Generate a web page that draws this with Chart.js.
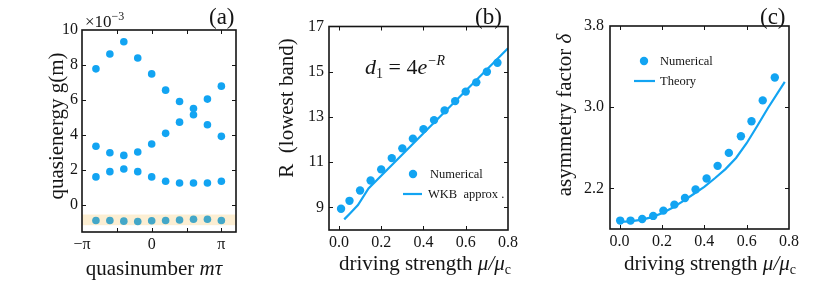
<!DOCTYPE html>
<html>
<head>
<meta charset="utf-8">
<script src="https://cdn.jsdelivr.net/npm/chart.js@4.4.1/dist/chart.umd.min.js"></script>
<style>
  html, body { margin: 0; padding: 0; background: #fff; }
  #wrap { position: relative; width: 830px; height: 293px; overflow: hidden; }
  canvas { position: absolute; top: 0; }
</style>
</head>
<body>
<div id="wrap">
  <canvas id="panelA" width="262" height="293" style="left:0px"></canvas>
  <canvas id="panelB" width="283" height="293" style="left:262px"></canvas>
  <canvas id="panelC" width="285" height="293" style="left:545px"></canvas>
</div>
<script>
// ---- panel (a): quasienergy bands, x in units of pi, y in units of 1e-3
const mTau = [-0.8, -0.6, -0.4, -0.2, 0, 0.2, 0.4, 0.6, 0.8, 1.0];
const band4 = [7.78, 8.63, 9.33, 8.40, 7.49, 6.56, 5.91, 5.51, 6.05, 6.79];
const band3 = [3.35, 2.98, 2.83, 3.02, 3.48, 4.09, 4.73, 5.15, 4.58, 3.92];
const band2 = [1.60, 1.90, 2.05, 1.90, 1.60, 1.35, 1.25, 1.25, 1.25, 1.35];
const band1 = [-0.89, -0.89, -0.93, -0.95, -0.91, -0.89, -0.86, -0.82, -0.82, -0.89];
const lowestBandRange = [-1.16, -0.55];
const mTicks = [-1, -0.5, 0, 0.5, 1];
const mTickLabels = ["\u2212\u03c0", "", "0", "", "\u03c0"];
const gTicks = [0, 2, 4, 6, 8, 10];

// ---- panel (b): R of lowest band vs driving strength
const muNum = [0.01, 0.05, 0.1, 0.15, 0.2, 0.25, 0.3, 0.35, 0.4, 0.45, 0.5, 0.55, 0.6, 0.65, 0.7, 0.75];
const rNum = [8.94, 9.29, 9.75, 10.19, 10.68, 11.18, 11.61, 12.04, 12.46, 12.86, 13.29, 13.70, 14.12, 14.53, 15.0, 15.40];
const muWkb = [0.025, 0.05, 0.09, 0.14, 0.2, 0.3, 0.4, 0.5, 0.6, 0.7, 0.8];
const rWkb = [8.47, 8.71, 9.10, 9.84, 10.40, 11.34, 12.28, 13.22, 14.16, 15.10, 16.04];
const rTicks = [9, 11, 13, 15, 17];

// ---- panel (c): asymmetry factor vs driving strength
const muDelta = [0.003, 0.052, 0.107, 0.159, 0.207, 0.259, 0.309, 0.359, 0.411, 0.463, 0.516, 0.573, 0.623, 0.676, 0.733];
const deltaNum = [1.883, 1.883, 1.899, 1.929, 1.981, 2.04, 2.105, 2.19, 2.298, 2.422, 2.55, 2.714, 2.861, 3.067, 3.293];
const muTheory = [0, 0.05, 0.1, 0.15, 0.2, 0.25, 0.3, 0.35, 0.4, 0.45, 0.5, 0.55, 0.6, 0.65, 0.7, 0.78];
const deltaTheory = [1.87, 1.875, 1.89, 1.915, 1.955, 2.01, 2.075, 2.145, 2.215, 2.3, 2.39, 2.5, 2.645, 2.815, 2.99, 3.25];
const deltaTicks = [2.2, 3.0, 3.8];
const muTicks = [0, 0.2, 0.4, 0.6, 0.8];

const BLUE = "rgb(18, 164, 242)";
const INK = "#151515";
const SERIF = '"Liberation Serif", "DejaVu Serif", serif';
const f = (size, style = "") => `${style} ${size}px ${SERIF}`;

const pts = (xs, ys) => xs.map((x, i) => ({ x, y: ys[i] }));

function drawRich(ctx, item, dx) {
  ctx.save();
  ctx.translate(item.x - dx, item.y);
  if (item.rot) ctx.rotate(item.rot);
  ctx.textBaseline = "alphabetic";
  ctx.textAlign = "left";
  let w = 0;
  item.segs.forEach(([t, font]) => { ctx.font = font; w += ctx.measureText(t).width; });
  let cx = item.align === "center" ? -w / 2 : 0;
  item.segs.forEach(([t, font, dy]) => {
    ctx.font = font;
    ctx.fillStyle = INK;
    ctx.fillText(t, cx, dy || 0);
    cx += ctx.measureText(t).width;
  });
  ctx.restore();
}

const framePlugin = {
  id: "frame",
  afterDatasetsDraw(chart, args, o) {
    const { ctx, chartArea: a, scales: { y } } = chart;
    if (o.band) {
      const y1 = y.getPixelForValue(o.band[1]);
      const y0 = y.getPixelForValue(o.band[0]);
      ctx.save();
      ctx.fillStyle = "rgba(242, 176, 50, 0.22)";
      ctx.fillRect(a.left, y1, a.width, y0 - y1);
      ctx.restore();
    }
  },
  afterDraw(chart, args, o) {
    const { ctx, chartArea: a, scales: { x, y } } = chart;
    const dx = chart.canvas.offsetLeft;
    ctx.save();
    ctx.strokeStyle = INK;
    ctx.lineWidth = 1;
    ctx.beginPath();
    x.ticks.forEach((t) => {
      const px = Math.round(x.getPixelForValue(t.value)) + 0.5;
      if (px <= a.left + 1 || px >= a.right - 1) return;
      ctx.moveTo(px, a.bottom); ctx.lineTo(px, a.bottom - 4);
      ctx.moveTo(px, a.top); ctx.lineTo(px, a.top + 4);
    });
    y.ticks.forEach((t) => {
      const py = Math.round(y.getPixelForValue(t.value)) + 0.5;
      if (py <= a.top + 1 || py >= a.bottom - 1) return;
      ctx.moveTo(a.left, py); ctx.lineTo(a.left + 4, py);
      ctx.moveTo(a.right, py); ctx.lineTo(a.right - 4, py);
    });
    ctx.stroke();
    ctx.lineWidth = 1.6;
    ctx.strokeRect(a.left, a.top, a.width, a.height);
    ctx.restore();

    (o.texts || []).forEach((t) => drawRich(ctx, t, dx));

    (o.legend || []).forEach((row) => {
      const ds = chart.data.datasets[row.ds];
      ctx.save();
      if (row.kind === "point") {
        ctx.fillStyle = ds.backgroundColor;
        ctx.beginPath();
        ctx.arc(row.mx - dx, row.y, 4.2, 0, Math.PI * 2);
        ctx.fill();
      } else {
        ctx.strokeStyle = ds.borderColor;
        ctx.lineWidth = 2.2;
        ctx.beginPath();
        ctx.moveTo(row.mx - dx, row.y);
        ctx.lineTo(row.mx2 - dx, row.y);
        ctx.stroke();
      }
      ctx.fillStyle = INK;
      ctx.font = f(12.5);
      ctx.textBaseline = "middle";
      ctx.fillText(ds.label, row.tx - dx, row.y + 1);
      ctx.restore();
    });
  },
};

function scatterSet(label, data, r) {
  return { label, data, backgroundColor: BLUE, borderWidth: 0, pointRadius: r, showLine: false, order: 1 };
}
function lineSet(label, data) {
  return { label, data, borderColor: BLUE, backgroundColor: BLUE, borderWidth: 2.2, pointRadius: 0, showLine: true, tension: 0, order: 2 };
}

function makePanel(id, p) {
  return new Chart(document.getElementById(id), {
    type: "scatter",
    data: { datasets: p.datasets },
    plugins: [framePlugin],
    options: {
      responsive: false,
      animation: false,
      devicePixelRatio: 1,
      layout: { padding: { left: 0, right: p.padRight, top: p.padTop, bottom: 0 } },
      plugins: {
        legend: { display: false },
        tooltip: { enabled: false },
        frame: { texts: p.texts, legend: p.legend, band: p.band },
      },
      scales: {
        x: {
          type: "linear",
          min: p.xMin, max: p.xMax,
          grid: { display: false, drawTicks: false },
          border: { display: false },
          afterFit: (s) => { s.height = p.xAxisH; },
          afterBuildTicks: (s) => { s.ticks = p.xTicks.map((v) => ({ value: v })); },
          ticks: {
            autoSkip: false, maxRotation: 0, padding: 3, color: INK,
            font: { family: SERIF, size: 16 },
            callback: p.xLabel,
          },
        },
        y: {
          type: "linear",
          min: p.yMin, max: p.yMax,
          grid: { display: false, drawTicks: false },
          border: { display: false },
          afterFit: (s) => { s.width = p.yAxisW; },
          afterBuildTicks: (s) => { s.ticks = p.yTicks.map((v) => ({ value: v })); },
          ticks: {
            autoSkip: false, padding: p.yPad || 6, color: INK,
            font: { family: SERIF, size: 16 },
            callback: p.yLabel,
          },
        },
      },
    },
  });
}

const xTitleMu = (cx) => ({
  x: cx, y: 270, align: "center",
  segs: [["driving strength ", f(21)], ["\u03bc/\u03bc", f(21, "italic")], ["c", f(14), 4]],
});

makePanel("panelA", {
  datasets: [
    scatterSet("band 4", pts(mTau, band4), 3.8),
    scatterSet("band 3", pts(mTau, band3), 3.8),
    scatterSet("band 2", pts(mTau, band2), 3.8),
    scatterSet("band 1", pts(mTau, band1), 3.8),
  ],
  band: lowestBandRange,
  padRight: 26, padTop: 30, xAxisH: 61, yAxisW: 82, yPad: 4,
  xMin: -1, xMax: 1.21, yMin: -1.55, yMax: 10,
  xTicks: mTicks, yTicks: gTicks,
  xLabel: (v, i) => mTickLabels[i],
  yLabel: (v) => String(v),
  texts: [
    { x: 209, y: 24, segs: [["(a)", f(23)]] },
    { x: 85, y: 27, segs: [["\u00d710", f(17)], ["\u22123", f(12), -7]] },
    { x: 63, y: 126, rot: -Math.PI / 2, align: "center", segs: [["quasienergy g(m)", f(21)]] },
    { x: 154, y: 275, align: "center", segs: [["quasinumber ", f(21)], ["m\u03c4", f(21, "italic")]] },
  ],
});

makePanel("panelB", {
  datasets: [
    scatterSet("Numerical", pts(muNum, rNum), 4.2),
    lineSet("WKB  approx .", pts(muWkb, rWkb)),
  ],
  padRight: 37, padTop: 26.5, xAxisH: 63, yAxisW: 67, yPad: 5,
  xMin: -0.047, xMax: 0.8, yMin: 8, yMax: 17,
  xTicks: muTicks, yTicks: rTicks,
  xLabel: (v) => v.toFixed(1),
  yLabel: (v) => String(v),
  texts: [
    { x: 475, y: 24, segs: [["(b)", f(23)]] },
    { x: 293, y: 108, rot: -Math.PI / 2, align: "center", segs: [["R  (lowest band)", f(21)]] },
    xTitleMu(425),
    { x: 365, y: 74, segs: [["d", f(22, "italic")], ["1", f(14), 4], [" = 4", f(22)], ["e", f(22, "italic")], ["\u2212R", f(14, "italic"), -9]] },
  ],
  legend: [
    { ds: 0, kind: "point", mx: 413, y: 174, tx: 430 },
    { ds: 1, kind: "line", mx: 403, mx2: 422, y: 194, tx: 428 },
  ],
});

makePanel("panelC", {
  datasets: [
    scatterSet("Numerical", pts(muDelta, deltaNum), 4.2),
    lineSet("Theory", pts(muTheory, deltaTheory)),
  ],
  padRight: 41, padTop: 26, xAxisH: 64, yAxisW: 65,
  xMin: -0.045, xMax: 0.8, yMin: 1.8, yMax: 3.8,
  xTicks: muTicks, yTicks: deltaTicks,
  xLabel: (v) => v.toFixed(1),
  yLabel: (v) => v.toFixed(1),
  texts: [
    { x: 760, y: 24, segs: [["(c)", f(23)]] },
    { x: 571, y: 115, rot: -Math.PI / 2, align: "center", segs: [["asymmetry factor ", f(21)], ["\u03b4", f(21, "italic")]] },
    xTitleMu(710),
  ],
  legend: [
    { ds: 0, kind: "point", mx: 644, y: 61, tx: 660 },
    { ds: 1, kind: "line", mx: 634, mx2: 655, y: 81, tx: 660 },
  ],
});
</script>
</body>
</html>
